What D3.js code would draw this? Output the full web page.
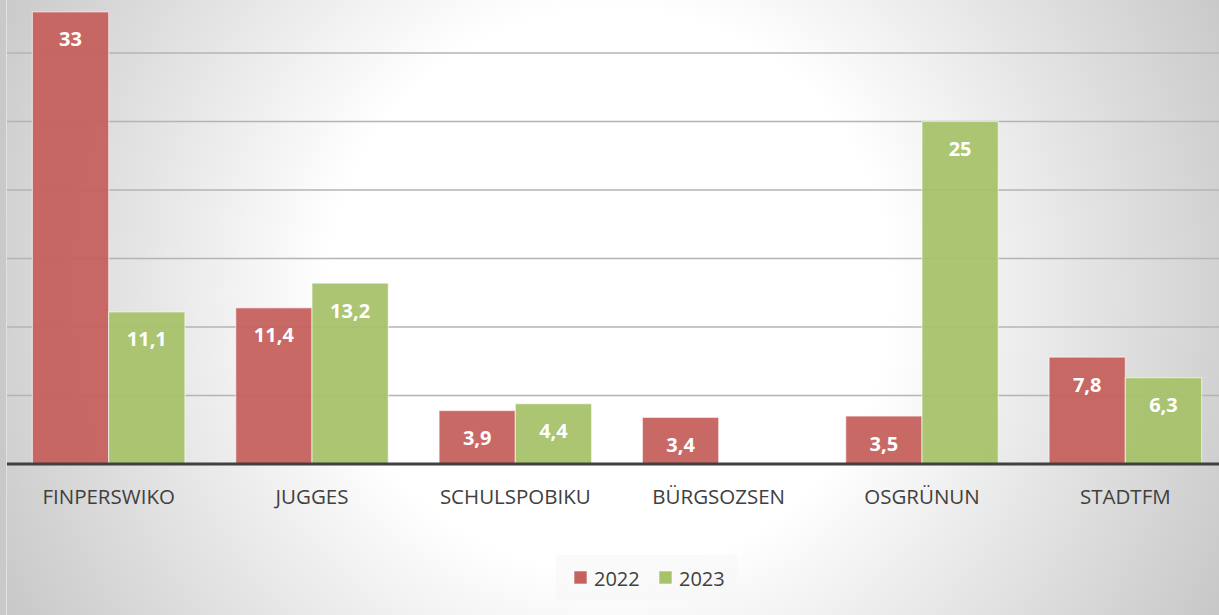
<!doctype html>
<html>
<head>
<meta charset="utf-8">
<script src="https://cdn.jsdelivr.net/npm/d3@7"></script>
<style>
  html, body { margin: 0; padding: 0; }
  svg { display: block; }
</style>
</head>
<body>
<div id="chart"></div>
<script>
// chart data
const categories = ["FINPERSWIKO", "JUGGES", "SCHULSPOBIKU", "BÜRGSOZSEN", "OSGRÜNUN", "STADTFM"];
const years = ["2022", "2023"];
const values2022 = [33, 11.4, 3.9, 3.4, 3.5, 7.8];
const values2023 = [11.1, 13.2, 4.4, null, 25, 6.3];
const gridTicks = [5, 10, 15, 20, 25, 30, 35];

const W = 1219, H = 615;
const colors = { "2022": "#c5615e", "2023": "#a6c26b" };

const svg = d3.select("#chart").append("svg")
  .attr("width", W).attr("height", H);

// background gradient, white in the middle, grey toward edges
const defs = svg.append("defs");
const grad = defs.append("radialGradient")
  .attr("id", "bg").attr("gradientUnits", "userSpaceOnUse")
  .attr("cx", 610).attr("cy", 290).attr("r", 700);
grad.append("stop").attr("offset", "0%").attr("stop-color", "#ffffff");
grad.append("stop").attr("offset", "40%").attr("stop-color", "#ffffff");
grad.append("stop").attr("offset", "63%").attr("stop-color", "#e9e9e9");
grad.append("stop").attr("offset", "100%").attr("stop-color", "#c6c6c6");
svg.append("rect").attr("width", W).attr("height", H).attr("fill", "url(#bg)");

// left strip / border of the chart area
svg.append("rect").attr("x", 0).attr("y", 0).attr("width", 6).attr("height", H)
  .attr("fill", "#c9c9c9");
svg.append("line").attr("x1", 6.5).attr("x2", 6.5).attr("y1", 0).attr("y2", H)
  .attr("stroke", "#e2e2e2").attr("stroke-width", 1);

const x0 = d3.scaleBand().domain(categories).range([7, 1227])
  .paddingInner(0.25).paddingOuter(0.125);
const x1 = d3.scaleBand().domain(years).range([0, x0.bandwidth()]);
const y = d3.scaleLinear().domain([0, 35]).range([464, 464 - 35 * 13.7]);

// gridlines
svg.append("g").selectAll("line").data(gridTicks).join("line")
  .attr("x1", 7).attr("x2", W)
  .attr("y1", d => y(d)).attr("y2", d => y(d))
  .attr("stroke", "#b4b4b4").attr("stroke-width", 1.3);

const fmt = v => String(v).replace(".", ",");

const rows = categories.map((c, i) => ({
  cat: c,
  bars: [
    { year: "2022", value: values2022[i] },
    { year: "2023", value: values2023[i] }
  ].filter(b => b.value != null)
}));

const groups = svg.append("g").selectAll("g").data(rows).join("g")
  .attr("transform", d => `translate(${x0(d.cat)},0)`);

groups.selectAll("rect").data(d => d.bars).join("rect")
  .attr("x", d => x1(d.year))
  .attr("y", d => y(d.value))
  .attr("width", x1.bandwidth())
  .attr("height", d => y(0) - y(d.value))
  .attr("fill", d => colors[d.year])
  .attr("fill-opacity", 0.95)
  .attr("stroke", "rgba(255,255,255,0.55)")
  .attr("stroke-width", 1.2);

groups.selectAll("text").data(d => d.bars).join("text")
  .attr("x", d => x1(d.year) + x1.bandwidth() / 2)
  .attr("y", d => y(d.value) + 27)
  .attr("text-anchor", "middle")
  .attr("dominant-baseline", "central")
  .attr("font-family", "Open Sans, sans-serif")
  .attr("font-weight", "bold")
  .attr("font-size", 20)
  .attr("fill", "#ffffff")
  .text(d => fmt(d.value));

// baseline
svg.append("line").attr("x1", 7).attr("x2", W)
  .attr("y1", y(0)).attr("y2", y(0))
  .attr("stroke", "#404040").attr("stroke-width", 3);

// category labels
svg.append("g").selectAll("text").data(categories).join("text")
  .attr("x", d => x0(d) + x0.bandwidth() / 2)
  .attr("y", 496)
  .attr("text-anchor", "middle")
  .attr("dominant-baseline", "central")
  .attr("font-family", "Open Sans, sans-serif")
  .attr("font-size", 20.5)
  .attr("fill", "#404040")
  .text(d => d);

// legend
const legend = svg.append("g");
legend.append("rect").attr("x", 556).attr("y", 555).attr("width", 181).attr("height", 45)
  .attr("fill", "#f7f7f7").attr("fill-opacity", 0.6);
const legendX = [574, 659];
years.forEach((yr, i) => {
  legend.append("rect").attr("x", legendX[i]).attr("y", 571)
    .attr("width", 13).attr("height", 13)
    .attr("fill", colors[yr]).attr("stroke", "rgba(255,255,255,0.6)");
  legend.append("text").attr("x", legendX[i] + 20).attr("y", 578)
    .attr("dominant-baseline", "central")
    .attr("font-family", "Open Sans, sans-serif")
    .attr("font-size", 20)
    .attr("fill", "#404040")
    .text(yr);
});
</script>
</body>
</html>
